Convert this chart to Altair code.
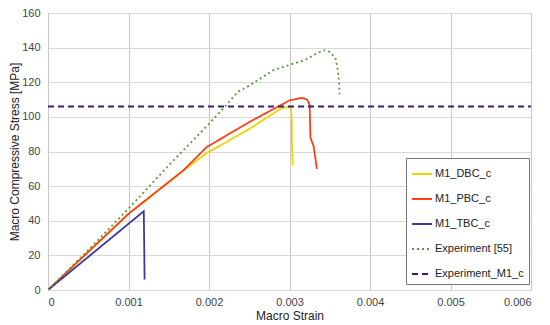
import altair as alt
import pandas as pd

series_names = ["M1_DBC_c", "M1_PBC_c", "M1_TBC_c", "Experiment [55]", "Experiment_M1_c"]
series_colors = ["#F2D200", "#FF4015", "#3A3A9E", "#5A9A3A", "#3B1F6B"]
series_dash = [[1, 0], [1, 0], [1, 0], [2, 3], [6, 4]]

dbc_strain = [0, 0.0005, 0.001, 0.00168, 0.00197, 0.0025, 0.0028, 0.0029, 0.00302, 0.00303, 0.00303, 0.00304]
dbc_stress = [0, 22, 44, 69, 79, 93, 102, 105, 106, 95, 85, 72]

pbc_strain = [0, 0.0005, 0.001, 0.00168, 0.00197, 0.0025, 0.0029, 0.003, 0.00315, 0.00322, 0.00325, 0.00326, 0.0033, 0.00334]
pbc_stress = [0, 22, 44, 69, 82.5, 97, 107, 109.5, 111, 110, 107, 88, 83, 70]

tbc_strain = [0, 0.00119, 0.0012]
tbc_stress = [0, 45.5, 6]

exp_strain = [0, 0.0005, 0.001, 0.0015, 0.002, 0.0022, 0.00236, 0.0025, 0.0028, 0.003, 0.0032, 0.00335, 0.00344, 0.0035, 0.00357, 0.0036, 0.00362, 0.00362]
exp_stress = [0, 23, 47, 72, 96, 106, 114.5, 118, 127, 130, 133, 137, 138.5, 137.5, 134, 127, 118, 113]

m1_strain = [0, 0.006]
m1_stress = [106, 106]

x_ticks = [0, 0.001, 0.002, 0.003, 0.004, 0.005, 0.006]
y_ticks = [0, 20, 40, 60, 80, 100, 120, 140, 160]

rows = []
for name, xs, ys in [
    ("M1_DBC_c", dbc_strain, dbc_stress),
    ("M1_PBC_c", pbc_strain, pbc_stress),
    ("M1_TBC_c", tbc_strain, tbc_stress),
    ("Experiment [55]", exp_strain, exp_stress),
    ("Experiment_M1_c", m1_strain, m1_stress),
]:
    for i, (x, y) in enumerate(zip(xs, ys)):
        rows.append({"series": name, "strain": x, "stress": y, "idx": i})
df = pd.DataFrame(rows)

font = "Liberation Sans"

chart = alt.Chart(df).mark_line(strokeWidth=1.8, clip=True).encode(
    x=alt.X("strain:Q", title="Macro Strain",
            scale=alt.Scale(domain=[0, 0.006], nice=False, zero=True),
            axis=alt.Axis(values=x_ticks, grid=True, gridColor="#C8C8C8", gridWidth=1,
                          format="~g", ticks=False, domain=False,
                          labelPadding=6, titlePadding=3)),
    y=alt.Y("stress:Q", title="Macro Compressive Stress [MPa]",
            scale=alt.Scale(domain=[0, 160], nice=False),
            axis=alt.Axis(values=y_ticks, grid=True, gridColor="#D9D9D9",
                          ticks=False, domain=False,
                          labelPadding=8, titlePadding=0)),
    color=alt.Color("series:N", title=None,
                    scale=alt.Scale(domain=series_names, range=series_colors),
                    sort=series_names,
                    legend=alt.Legend(orient="none", legendX=358, legendY=145,
                                      symbolType="stroke", symbolSize=400,
                                      symbolStrokeWidth=2,
                                      labelFontSize=11, labelFont=font, labelColor="#222",
                                      rowPadding=9, padding=5,
                                      strokeColor="#777", fillColor="white",
                                      labelOffset=2, labelLimit=200)),
    strokeDash=alt.StrokeDash("series:N", title=None,
                              scale=alt.Scale(domain=series_names, range=series_dash),
                              sort=series_names),
    detail="series:N",
    order="idx:Q",
).properties(
    width=483, height=277,
    padding={"left": 40, "top": 5, "right": 11, "bottom": 34},
    autosize=alt.AutoSizeParams(type="none"),
).configure_axis(
    labelFont=font, titleFont=font,
    labelFontSize=11, titleFontSize=12, labelColor="#444", titleColor="#222",
    titleFontWeight="normal",
).configure_view(stroke="#C8C8C8")

chart.save("out.html", embed_options={"renderer": "svg", "actions": False})
